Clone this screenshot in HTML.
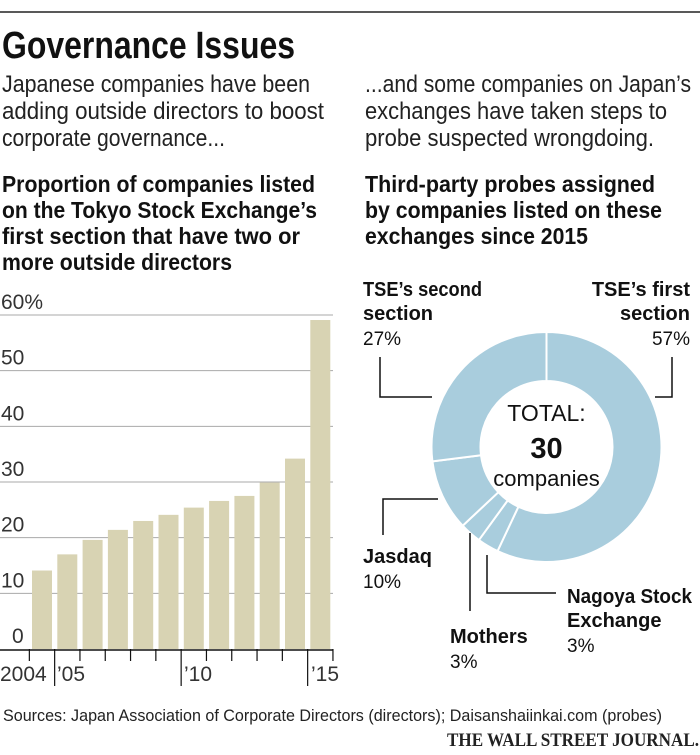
<!DOCTYPE html>
<html><head><meta charset="utf-8"><style>
html,body{margin:0;padding:0;background:#fff;}
svg{display:block;font-family:"Liberation Sans",sans-serif;}
.b{font-weight:bold;}
</style></head><body>
<svg id="chart" width="700" height="755" viewBox="0 0 700 755">
<line x1="0" y1="12" x2="700" y2="12" stroke="#222" stroke-width="1.5"/>
<text x="2" y="58" font-size="38" class="b" textLength="293" lengthAdjust="spacingAndGlyphs" fill="#111">Governance Issues</text>
<g font-size="24" fill="#222">
<text x="2" y="92" textLength="308" lengthAdjust="spacingAndGlyphs">Japanese companies have been</text>
<text x="2" y="119" textLength="322" lengthAdjust="spacingAndGlyphs">adding outside directors to boost</text>
<text x="2" y="146" textLength="223" lengthAdjust="spacingAndGlyphs">corporate governance...</text>
</g>
<g font-size="24" fill="#222">
<text x="365" y="92" textLength="326" lengthAdjust="spacingAndGlyphs">...and some companies on Japan’s</text>
<text x="365" y="119" textLength="302" lengthAdjust="spacingAndGlyphs">exchanges have taken steps to</text>
<text x="365" y="146" textLength="289" lengthAdjust="spacingAndGlyphs">probe suspected wrongdoing.</text>
</g>
<g font-size="23" class="b" fill="#111">
<text x="2" y="192" textLength="313" lengthAdjust="spacingAndGlyphs">Proportion of companies listed</text>
<text x="2" y="218" textLength="315" lengthAdjust="spacingAndGlyphs">on the Tokyo Stock Exchange’s</text>
<text x="2" y="244" textLength="298" lengthAdjust="spacingAndGlyphs">first section that have two or</text>
<text x="2" y="270" textLength="230" lengthAdjust="spacingAndGlyphs">more outside directors</text>
</g>
<g font-size="23" class="b" fill="#111">
<text x="365" y="192" textLength="290" lengthAdjust="spacingAndGlyphs">Third-party probes assigned</text>
<text x="365" y="218" textLength="297" lengthAdjust="spacingAndGlyphs">by companies listed on these</text>
<text x="365" y="244" textLength="223" lengthAdjust="spacingAndGlyphs">exchanges since 2015</text>
</g>
<g id="bars"></g>
<g id="donut"></g>
<text x="3" y="721" font-size="17" fill="#222" textLength="659" lengthAdjust="spacingAndGlyphs">Sources: Japan Association of Corporate Directors (directors); Daisanshaiinkai.com (probes)</text>
<text x="447" y="746" font-size="19" font-weight="bold" font-family="Liberation Serif, serif" fill="#222" textLength="252" lengthAdjust="spacingAndGlyphs">THE WALL STREET JOURNAL.</text>
</svg>
<script>
const years = ["2004","2005","2006","2007","2008","2009","2010","2011","2012","2013","2014","2015"];
const shares = [14.1,17.0,19.6,21.4,23.0,24.1,25.4,26.6,27.5,29.9,34.2,59.1];
const yTicks = [0,10,20,30,40,50,60];
const yTickLabels = ["0","10","20","30","40","50","60%"];
const xLabels = ["2004","’05","’10","’15"];
const segNames = ["TSE's first section","Nagoya Stock Exchange","Mothers","Jasdaq","TSE's second section"];
const segValues = [57,3,3,10,27];

const NS="http://www.w3.org/2000/svg";
function mk(tag,attrs,parent){const e=document.createElementNS(NS,tag);for(const k in attrs)e.setAttribute(k,attrs[k]);parent.appendChild(e);return e;}
const bars=document.getElementById('bars');
const y0=649, pxPer=(649-315)/60;
const yS=v=>y0-v*pxPer;
const x0=32, step=25.3, bw=20;
const xS=i=>x0+i*step;
yTicks.forEach((t,i)=>{
  if(t>0){const g=mk('line',{x1:0,x2:333,y1:yS(t),y2:yS(t),stroke:'#aaa','stroke-width':1},bars);
  
  }
  const tx=mk('text',{x:i==0?12:1,y:yS(t)-6,'font-size':21,fill:'#333'},bars);
  tx.textContent=yTickLabels[i];
  
  
});
shares.forEach((v,i)=>{
  const r=mk('rect',{x:xS(i),y:yS(v),width:bw,height:y0-yS(v),fill:'#d8d3b3'},bars);
  
  
});
const ax=mk('line',{x1:0,x2:333,y1:y0+1,y2:y0+1,stroke:'#111','stroke-width':1.5},bars);


for(let i=0;i<=years.length;i++){
  const x=xS(i)-(step-bw)/2;
  const long=(i==1||i==6||i==11);
  const t=mk('line',{x1:x,x2:x,y1:y0,y2:long?y0+37:y0+12,stroke:'#111','stroke-width':1.2},bars);
  
  
}
[[0,0],[55,1],[182,6],[309,11]].forEach((p,j)=>{
  const t=mk('text',{x:p[0]+(j?2:0),y:681,'font-size':21,fill:'#333'},bars);
  t.textContent=xLabels[j];
  
  
});

const d=document.getElementById('donut');
const cx=546.5, cy=447, R=115, Ri=66;
const total=segValues.reduce((a,b)=>a+b,0);
let a=0;
segValues.forEach((v,i)=>{
  const a1=a, a2=a+v/total*2*Math.PI; a=a2;
  const p=(ang,r)=>[cx+r*Math.sin(ang),cy-r*Math.cos(ang)];
  const [x1,y1]=p(a1,R),[x2,y2]=p(a2,R),[x3,y3]=p(a2,Ri),[x4,y4]=p(a1,Ri);
  const lg=(a2-a1)>Math.PI?1:0;
  const s=mk('path',{d:`M${x1},${y1}A${R},${R} 0 ${lg} 1 ${x2},${y2}L${x3},${y3}A${Ri},${Ri} 0 ${lg} 0 ${x4},${y4}Z`,fill:'#a9cddd',stroke:'#fff','stroke-width':2},d);
  
  
});
const center=[["TOTAL:",421,23,'normal'],["30",458,29,'bold'],["companies",486,22,'normal']];
center.forEach(c=>{const t=mk('text',{x:cx,y:c[1],'font-size':c[2],'font-weight':c[3],'text-anchor':'middle',fill:'#111'},d);t.textContent=c[0];

});
const leaders=["M432,397H380V357","M655,397H672V357","M438,499H383V535","M470,533V611","M487,555V593H556"];
leaders.forEach(s=>{const l=mk('path',{d:s,fill:'none',stroke:'#111','stroke-width':1.5},d);

});
const labels=[
 ["TSE’s second",363,296,'b','start',119],["section",363,320,'b','start',0],["27%",363,345,'n','start',0],
 ["TSE’s first",690,296,'b','end',0],["section",690,320,'b','end',0],["57%",690,345,'n','end',0],
 ["Jasdaq",363,563,'b','start',0],["10%",363,588,'n','start',0],
 ["Mothers",450,643,'b','start',0],["3%",450,668,'n','start',0],
 ["Nagoya Stock",567,603,'b','start',125],["Exchange",567,627,'b','start',0],["3%",567,652,'n','start',0]];
labels.forEach(l=>{const t=mk('text',{x:l[1],y:l[2],'font-size':l[3]=='b'?20:19,'font-weight':l[3]=='b'?'bold':'normal','text-anchor':l[4],fill:'#111'},d);t.textContent=l[0];
if(l[5]){t.setAttribute('textLength',l[5]);t.setAttribute('lengthAdjust','spacingAndGlyphs');}

});
</script>
</body></html>
